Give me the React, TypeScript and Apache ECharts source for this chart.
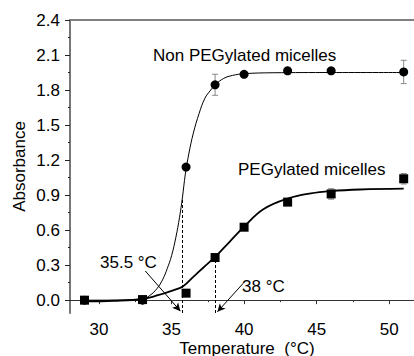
import React, { useEffect, useRef } from "react";
import * as echarts from "echarts";

// Measured temperatures (°C)
const temps = [29, 33, 36, 38, 40, 43, 46, 51];
// Non PEGylated micelles (circles)
const nonPegY = [0.0, 0.0, 1.14, 1.845, 1.935, 1.965, 1.965, 1.955];
const nonPegErr = [0.01, 0.01, 0.02, 0.09, 0.02, 0.03, 0.025, 0.1];
// PEGylated micelles (squares)
const pegY = [0.0, 0.005, 0.06, 0.365, 0.625, 0.84, 0.91, 1.04];
const pegErr = [0.01, 0.03, 0.01, 0.01, 0.01, 0.03, 0.045, 0.045];

// Fitted curves
const nonPegFitX = [29, 31, 33, 33.5, 34, 34.4, 34.7, 35, 35.3, 35.55, 35.75, 35.95, 36.2, 36.5, 36.9, 37.3, 37.7, 38, 38.6, 39.2, 40, 42, 46, 51];
const nonPegFitY = [0.0, 0.0, 0.01, 0.04, 0.1, 0.18, 0.27, 0.38, 0.54, 0.71, 0.88, 1.08, 1.26, 1.43, 1.6, 1.73, 1.8, 1.845, 1.9, 1.925, 1.94, 1.948, 1.95, 1.95];
const pegFitX = [29, 31, 33, 34, 35, 35.8, 36.5, 37.2, 38, 39, 40, 41.35, 43, 44.6, 46, 48, 51];
const pegFitY = [-0.01, -0.005, 0.01, 0.04, 0.08, 0.12, 0.2, 0.28, 0.37, 0.5, 0.63, 0.78, 0.87, 0.915, 0.935, 0.948, 0.955];

// Annotations
const transitionTemps = [35.72, 38.02];
const transitionTops = [0.88, 0.37];
const arrowFrom = [[33.19, 0.25], [39.95, 0.146]];
const arrowTo = [[35.61, -0.094], [38.16, -0.1]];

// Axis ticks
const xMajor = [30, 35, 40, 45, 50];
const xMinor = [32.5, 37.5, 42.5, 47.5];
const yMajor = [0, 0.3, 0.6, 0.9, 1.2, 1.5, 1.8, 2.1, 2.4];
const yMinor = [0.15, 0.45, 0.75, 1.05, 1.35, 1.65, 1.95, 2.25];

const FONT = "Liberation Sans, Arial, sans-serif";
const FS = 17;
const X_MIN = 28;
const X_MAX = 52.4;
const Y_MIN = -0.11;
const Y_MAX = 2.4;

export default function App() {
  const ref = useRef<HTMLDivElement>(null);
  useEffect(() => {
    document.body.style.margin = "0";
    const chart = echarts.init(ref.current!, null, { renderer: "svg" });
    const errRender = (params: any, api: any) => {
      const x = api.value(0), y = api.value(1), e = api.value(2);
      const top = api.coord([x, y + e]);
      const bot = api.coord([x, y - e]);
      const hw = 3;
      const st = { stroke: "#888", lineWidth: 1 };
      return {
        type: "group",
        children: [
          { type: "line", shape: { x1: top[0], y1: top[1], x2: bot[0], y2: bot[1] }, style: st },
          { type: "line", shape: { x1: top[0] - hw, y1: top[1], x2: top[0] + hw, y2: top[1] }, style: st },
          { type: "line", shape: { x1: bot[0] - hw, y1: bot[1], x2: bot[0] + hw, y2: bot[1] }, style: st },
        ],
      };
    };
    const gridBox = { left: 70, top: 20, right: -10, bottom: 43, containLabel: false, outerBoundsMode: "none", show: false };
    const option: any = {
      animation: false,
      grid: [gridBox, { ...gridBox }],
      xAxis: [
        {
          gridIndex: 0, type: "value", min: X_MIN, max: X_MAX, position: "bottom",
          axisLine: { show: true, lineStyle: { color: "#333", width: 1 } },
          axisTick: { show: true, customValues: xMajor, length: 4, lineStyle: { color: "#333" } },
          axisLabel: { customValues: xMajor, fontSize: FS, lineHeight: 13, color: "#000", fontFamily: FONT, margin: 10 },
          splitLine: { show: false },
          name: "Temperature  (°C)", nameLocation: "middle", nameGap: 29, nameMoveOverlap: false,
          nameTextStyle: { fontSize: FS, lineHeight: 13, color: "#000", fontFamily: FONT },
        },
        {
          gridIndex: 0, type: "value", min: X_MIN, max: X_MAX, position: "top",
          axisLine: { show: true, lineStyle: { color: "#808080", width: 2 } },
          axisTick: { show: false },
          axisLabel: { show: false },
          splitLine: { show: false },
        },
        {
          gridIndex: 1, type: "value", min: X_MIN, max: X_MAX, position: "bottom",
          axisLine: { show: false },
          axisTick: { show: true, customValues: xMinor, length: 2, lineStyle: { color: "#333" } },
          axisLabel: { show: false },
          splitLine: { show: false },
        },
      ],
      yAxis: [
        {
          gridIndex: 0, type: "value", min: Y_MIN, max: Y_MAX, position: "left",
          axisLine: { show: true, lineStyle: { color: "#777", width: 2 } },
          axisTick: { show: true, customValues: yMajor, length: 5, lineStyle: { color: "#222" } },
          axisLabel: { customValues: yMajor, fontSize: FS, color: "#000", fontFamily: FONT, margin: 10, formatter: (v: number) => v.toFixed(1) },
          splitLine: { show: false },
          name: "Absorbance", nameLocation: "middle", nameGap: 42, nameRotate: 90, nameMoveOverlap: false,
          nameTextStyle: { fontSize: FS, color: "#000", fontFamily: FONT },
        },
        {
          gridIndex: 1, type: "value", min: Y_MIN, max: Y_MAX, position: "left",
          axisLine: { show: false },
          axisTick: { show: true, customValues: yMinor, length: 2, lineStyle: { color: "#222" } },
          axisLabel: { show: false },
          splitLine: { show: false },
        },
      ],
      series: [
        {
          type: "custom", renderItem: errRender, z: 1, xAxisIndex: 0, yAxisIndex: 0,
          data: temps.map((t, i) => [t, nonPegY[i], nonPegErr[i]]),
        },
        {
          type: "custom", renderItem: errRender, z: 1, xAxisIndex: 0, yAxisIndex: 0,
          data: temps.map((t, i) => [t, pegY[i], pegErr[i]]),
        },
        {
          type: "line", smooth: 0.4, symbol: "none", z: 2, xAxisIndex: 0, yAxisIndex: 0,
          lineStyle: { color: "#000", width: 1 },
          data: nonPegFitX.map((x, i) => [x, nonPegFitY[i]]),
          markLine: {
            silent: true, symbol: ["none", "none"], label: { show: false },
            lineStyle: { color: "#000", type: [3, 2], width: 1 },
            data: transitionTemps.map((t, i) => [{ coord: [t, Y_MIN] }, { coord: [t, transitionTops[i]] }]),
          },
        },
        {
          type: "line", smooth: 0.4, symbol: "none", z: 2, xAxisIndex: 0, yAxisIndex: 0,
          lineStyle: { color: "#000", width: 1.8 },
          data: pegFitX.map((x, i) => [x, pegFitY[i]]),
          markLine: {
            silent: true, symbol: ["none", "arrow"], symbolSize: [6, 8], label: { show: false },
            lineStyle: { color: "#000", type: "solid", width: 1 },
            data: arrowFrom.map((f, i) => [{ coord: f }, { coord: arrowTo[i] }]),
          },
        },
        {
          type: "scatter", symbol: "circle", symbolSize: 9, z: 3, xAxisIndex: 0, yAxisIndex: 0,
          itemStyle: { color: "#000", opacity: 1 },
          data: temps.map((t, i) => [t, nonPegY[i]]),
        },
        {
          type: "scatter", symbol: "rect", symbolSize: 9, z: 4, xAxisIndex: 0, yAxisIndex: 0,
          itemStyle: { color: "#000", opacity: 1 },
          data: temps.map((t, i) => [t, pegY[i]]),
        },
      ],
      graphic: [
        { type: "text", x: 153, y: 55, style: { text: "Non PEGylated micelles", fontSize: FS, fontFamily: FONT, fill: "#000", textVerticalAlign: "middle" } },
        { type: "text", x: 238, y: 169, style: { text: "PEGylated micelles", fontSize: FS, fontFamily: FONT, fill: "#000", textVerticalAlign: "middle" } },
        { type: "text", x: 100, y: 262, style: { text: "35.5 °C", fontSize: FS, fontFamily: FONT, fill: "#000", textVerticalAlign: "middle" } },
        { type: "text", x: 242, y: 286, style: { text: "38 °C", fontSize: FS, fontFamily: FONT, fill: "#000", textVerticalAlign: "middle" } },
      ],
    };
    chart.setOption(option);
    return () => chart.dispose();
  }, []);
  return <div ref={ref} style={{ width: 414, height: 356 }} />;
}
